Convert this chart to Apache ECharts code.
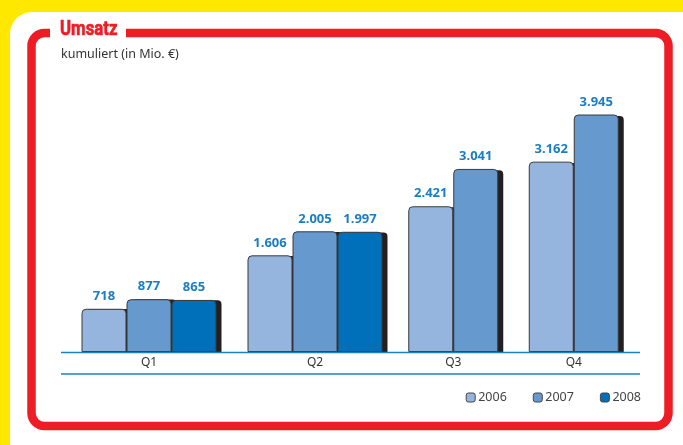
<!DOCTYPE html>
<html>
<head>
<meta charset="utf-8">
<script src="https://cdn.jsdelivr.net/npm/echarts@6/dist/echarts.min.js"></script>
<style>
html,body{margin:0;padding:0;background:#ffe800;}
#c{width:683px;height:445px;}
</style>
</head>
<body>
<div id="c"></div>
<script>
var categories = ['Q1', 'Q2', 'Q3', 'Q4'];
var years = ['2006', '2007', '2008'];
var v2006 = [718, 1606, 2421, 3162];
var v2007 = [877, 2005, 3041, 3945];
var v2008 = [865, 1997, null, null];
var titleText = 'Umsatz';
var subtitleText = 'kumuliert (in Mio. €)';

var colors = ['#95b4de', '#6699cd', '#0070ba'];
var values = [v2006, v2007, v2008];

function fmt(v) {
  return String(v).replace(/\B(?=(\d{3})+(?!\d))/g, '.');
}

var chart = echarts.init(document.getElementById('c'), null, {renderer: 'canvas'});

// two groups: quarters with three years, quarters with two years
var groups = [[0, 1], [2, 3]];

function makeSeries(yearIdx, group, axisIdx, shadow) {
  var s = {
    type: 'bar',
    name: shadow ? years[yearIdx] + ' ' : years[yearIdx],
    xAxisIndex: axisIdx,
    yAxisIndex: axisIdx,
    barWidth: 45,
    barGap: '0%',
    z: shadow ? 1 : 2,
    silent: !!shadow,
    data: group.map(function (i) { return values[yearIdx][i]; }),
    emphasis: {disabled: true}
  };
  if (shadow) {
    s.itemStyle = {color: '#231f20', borderRadius: [4, 4, 0, 0]};
    s.label = {show: false};
  } else {
    s.itemStyle = {
      color: colors[yearIdx],
      borderColor: '#3a3a3a',
      borderWidth: 1,
      borderRadius: [4, 4, 0, 0]
    };
    s.label = {
      show: true,
      position: 'top',
      distance: 6,
      color: '#1b7dc4',
      fontFamily: 'Open Sans',
      fontWeight: 'bold',
      fontSize: 13,
      formatter: function (p) { return fmt(p.value); }
    };
  }
  return s;
}

var series = [];
// axes 0,1 = main bars; axes 2,3 = shadow layer (offset grids)
[true, false].forEach(function (shadow) {
  groups.forEach(function (group, g) {
    [0, 1, 2].forEach(function (y) {
      if (group.some(function (i) { return values[y][i] != null; })) {
        series.push(makeSeries(y, group, shadow ? g + 2 : g, shadow));
      }
    });
  });
});

function xAxis(group, gridIdx, shown) {
  return {
    type: 'category',
    gridIndex: gridIdx,
    data: group.map(function (i) { return categories[i]; }),
    axisLine: {show: false},
    axisTick: {show: false},
    axisLabel: {
      show: shown,
      color: '#333',
      fontFamily: 'Noto Sans',
      fontSize: 12,
      margin: 5
    }
  };
}
function yAxis(gridIdx) {
  return {
    type: 'value', gridIndex: gridIdx, min: 0, max: 5000,
    show: false, splitLine: {show: false}
  };
}

var option = {
  animation: false,
  backgroundColor: '#ffe800',
  grid: [
    {left: 66, width: 332, top: 51, bottom: 93},
    {left: 393, width: 241, top: 51, bottom: 93},
    {left: 71, width: 332, top: 53, bottom: 93},
    {left: 398, width: 241, top: 53, bottom: 93}
  ],
  xAxis: [xAxis(groups[0], 0, true), xAxis(groups[1], 1, true), xAxis(groups[0], 2, false), xAxis(groups[1], 3, false)],
  yAxis: [yAxis(0), yAxis(1), yAxis(2), yAxis(3)],
  legend: {
    data: years,
    right: 37,
    top: 386,
    itemWidth: 9,
    itemHeight: 9,
    itemGap: 26,
    icon: 'roundRect',
    textStyle: {color: '#444', fontFamily: 'Noto Sans', fontSize: 12.5, padding: [0, 0, 0, -2]},
    itemStyle: {borderColor: '#444', borderWidth: 1}
  },
  graphic: [
    {type: 'rect', z: -10, shape: {x: 10, y: 12, width: 700, height: 460, r: 22}, style: {fill: '#ffffff'}, silent: true},
    {type: 'rect', z: -9, shape: {x: 31.5, y: 33, width: 637, height: 393, r: 13}, style: {fill: 'none', stroke: '#ee1c25', lineWidth: 8.5}, silent: true},
    {type: 'rect', z: -8, shape: {x: 50, y: 24, width: 76, height: 16}, style: {fill: '#ffffff'}, silent: true},
    {type: 'text', z: 10, x: 60, y: 29.5, scaleX: 0.84, style: {text: titleText, fill: '#ee1c25', font: 'bold 20px Roboto', textVerticalAlign: 'middle', stroke: '#ee1c25', lineWidth: 0.6}, silent: true},
    {type: 'text', z: 10, x: 61, y: 54, style: {text: subtitleText, fill: '#333', font: '12.5px "Noto Sans"', textVerticalAlign: 'middle'}, silent: true},
    {type: 'line', z: 100, shape: {x1: 61, y1: 352.5, x2: 640, y2: 352.5}, style: {stroke: '#1a80c8', lineWidth: 1.6}, silent: true},
    {type: 'line', z: 100, shape: {x1: 61, y1: 374, x2: 640, y2: 374}, style: {stroke: '#1a80c8', lineWidth: 1.6}, silent: true}
  ],
  series: series
};
chart.setOption(option);
</script>
</body>
</html>
